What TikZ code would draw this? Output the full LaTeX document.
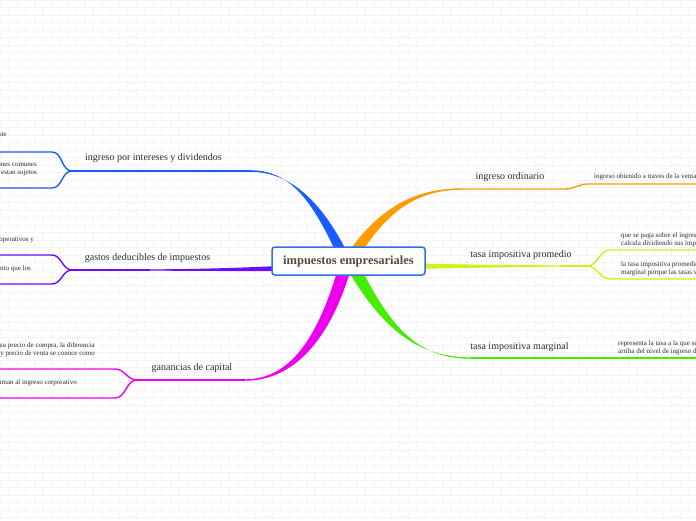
\documentclass[tikz,border=0pt]{standalone}
\usepackage{fontspec}
\setmainfont{Liberation Serif}
\usetikzlibrary{positioning}

\definecolor{mmBlue}{HTML}{1A5CFF}
\definecolor{mmViolet}{HTML}{6A0DFF}
\definecolor{mmMagenta}{HTML}{EE00EE}
\definecolor{mmOrange}{HTML}{FF9A00}
\definecolor{mmLime}{HTML}{CCF21A}
\definecolor{mmGreen}{HTML}{44EE00}
\definecolor{mmFrame}{HTML}{2F6FE8}
\definecolor{mmTitle}{HTML}{5A4A3C}
\definecolor{mmText}{HTML}{2E2E2E}
\definecolor{mmBrick}{HTML}{F4F4F4}

\begin{document}
\begin{tikzpicture}[
  x=1pt, y=-1pt,
  root/.style={
    rectangle, rounded corners=3pt, draw=mmFrame, line width=1.5pt, fill=white,
    minimum width=153pt, minimum height=28pt, inner sep=0pt,
    text=mmTitle, font=\bfseries\fontsize{12.5}{14}\selectfont
  },
  topic/.style={inner sep=0pt, text=mmText, font=\fontsize{10}{12}\selectfont},
  leaf/.style={inner sep=0pt, text=mmText, font=\fontsize{7}{8}\selectfont},
  leafL/.style={leaf, anchor=east, align=right},
  leafR/.style={leaf, anchor=west, align=left},
  twig/.style={line width=1.4pt},
  brick/.style={draw=mmBrick, line width=0.6pt},
]

%% ════════════════════════════════════════════════
%% BACKGROUND — brick wall, page frame
%% ════════════════════════════════════════════════
\clip (0,0) rectangle (696,520);
\useasboundingbox (0,0) rectangle (696,520);
\fill[white] (0,0) rectangle (696,520);
\foreach \r in {0,...,70}
  \draw[brick] (0,7.5*\r) -- (696,7.5*\r);
\foreach \k in {0,...,82} {
  \pgfmathsetmacro\ph{mod(\k,2)*7.5}
  \draw[brick, dash pattern=on 7.5pt off 7.5pt, dash phase=\ph pt] (8.5*\k,0) -- (8.5*\k,520);
}

%% ════════════════════════════════════════════════
%% JOINTS — ends of the thick branches and forks
%% ════════════════════════════════════════════════
\coordinate (blueEnd)   at (250,171);
\coordinate (blueFork)  at (72,171);
\coordinate (blueUp)    at (52,152);
\coordinate (blueDown)  at (52,188);

\coordinate (violEnd)   at (150,270);
\coordinate (violFork)  at (72,270);
\coordinate (violUp)    at (52,255);
\coordinate (violDown)  at (52,284);

\coordinate (magEnd)    at (245,380);
\coordinate (magFork)   at (137,380);
\coordinate (magUp)     at (115,369);
\coordinate (magDown)   at (115,398);

\coordinate (orgEnd)    at (462,189);
\coordinate (orgBend)   at (565,189);
\coordinate (orgLeaf)   at (588,184);

\coordinate (limeEnd)   at (560,266);
\coordinate (limeFork)  at (587,266);
\coordinate (limeUp)    at (610,250);
\coordinate (limeDown)  at (610,279);

\coordinate (grnEnd)    at (470,358);

%% ════════════════════════════════════════════════
%% THICK BRANCHES — tapered, from the root outwards
%% ════════════════════════════════════════════════
\fill[mmBlue] (335,250) .. controls (311,200) and (290,170.2) .. (250,170.2)
  -- (250,171.8) .. controls (291,171.8) and (321,202) .. (346,250) -- cycle;
\fill[mmViolet] (300,265) .. controls (250,267.5) and (200,269.3) .. (150,269.3)
  -- (150,270.7) .. controls (200,270.7) and (250,271.5) .. (300,271) -- cycle;
\fill[mmMagenta] (337,272) .. controls (317,338) and (290,379.3) .. (245,379.3)
  -- (245,380.7) .. controls (293,380.7) and (329,341) .. (350,272) -- cycle;
\fill[mmOrange] (350,250) .. controls (380,208) and (415,188.3) .. (462,188.3)
  -- (462,189.7) .. controls (416,189.7) and (387,213) .. (362,252) -- cycle;
\fill[mmLime] (400,263) .. controls (450,264.5) and (520,265.3) .. (560,265.3)
  -- (560,266.7) .. controls (520,266.7) and (450,268.5) .. (400,269) -- cycle;
\fill[mmGreen] (349,272) .. controls (385,332) and (420,357.3) .. (470,357.3)
  -- (470,358.7) .. controls (421,358.7) and (393,331) .. (363,272) -- cycle;

%% ════════════════════════════════════════════════
%% THIN BRANCHES — topic lines and forks to the leaves
%% ════════════════════════════════════════════════
\draw[twig, mmBlue] (blueEnd) -- (blueFork);
\draw[twig, mmBlue] (blueFork) to[out=180, in=0] (blueUp) -- ++(-60,0);
\draw[twig, mmBlue] (blueFork) to[out=180, in=0] (blueDown) -- ++(-60,0);

\draw[twig, mmViolet] (violEnd) -- (violFork);
\draw[twig, mmViolet] (violFork) to[out=180, in=0] (violUp) -- ++(-60,0);
\draw[twig, mmViolet] (violFork) to[out=180, in=0] (violDown) -- ++(-60,0);

\draw[twig, mmMagenta] (magEnd) -- (magFork);
\draw[twig, mmMagenta] (magFork) to[out=180, in=0] (magUp) -- ++(-130,0);
\draw[twig, mmMagenta] (magFork) to[out=180, in=0] (magDown) -- ++(-130,0);

\draw[twig, mmOrange] (orgEnd) -- (orgBend) to[out=0, in=180] (orgLeaf) -- ++(120,0);

\draw[twig, mmLime] (limeEnd) -- (limeFork);
\draw[twig, mmLime] (limeFork) to[out=0, in=180] (limeUp) -- ++(100,0);
\draw[twig, mmLime] (limeFork) to[out=0, in=180] (limeDown) -- ++(100,0);

\draw[twig, mmGreen] (grnEnd) -- ++(240,0);

%% ════════════════════════════════════════════════
%% ROOT AND TOPICS
%% ════════════════════════════════════════════════
\node[root] (root) at (348.5,261) {impuestos empresariales};

\node[topic] (intereses)  at (153.5,158) {ingreso por intereses y dividendos};
\node[topic] (gastos)     at (147.5,258) {gastos deducibles de impuestos};
\node[topic] (ganancias)  at (192,368)   {ganancias de capital};
\node[topic] (ordinario)  at (510,177)   {ingreso ordinario};
\node[topic] (promedio)   at (521,255)   {tasa impositiva promedio};
\node[topic] (marginal)   at (519.5,347) {tasa impositiva marginal};

%% ════════════════════════════════════════════════
%% LEAVES — run off the page edge, as in the map
%% ════════════════════════════════════════════════
\node[leafL] (intA) at (7,135)  {se gravan a la tasa corporativa sin ningun ajuste};
\node[leafL] (intB) at (37,169) {el 70\% de los dividendos recibidos de acciones comunes\\de otras corporaciones no estan sujetos};

\node[leafL] (gasA) at (34,240) {los sueldos, la depreciacion y otros gastos operativos y};
\node[leafL] (gasB) at (31,269) {los intereses pagados son deducibles, en tanto que los};

\node[leafL] (ganA) at (95,350) {si un activo se vende a un precio mayor que su precio de compra, la diferencia\\entre el precio de compra y precio de venta se conoce como};
\node[leafL] (ganB) at (77,383) {las ganancias de capital se suman al ingreso corporativo};

\node[leafR] (ordA) at (594,177)   {ingreso obtenido a traves de la venta de bienes y servicios};

\node[leafR] (proA) at (621,239.5) {que se paga sobre el ingreso gravable, se\\calcula dividiendo sus impuestos entre el};
\node[leafR] (proB) at (621,268.5) {la tasa impositiva promedio es menor que la\\marginal porque las tasas varian};

\node[leafR] (marA) at (618,348)   {representa la tasa a la que se grava el ingreso\\arriba del nivel de ingreso del};

\end{tikzpicture}
\end{document}
